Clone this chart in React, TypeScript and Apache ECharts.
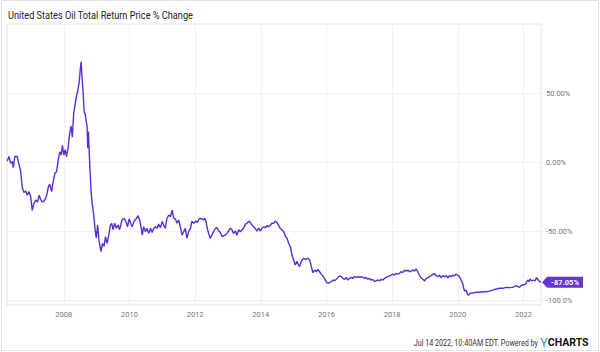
import React, { useEffect, useRef } from "react";
import * as echarts from "echarts";

// Decimal year, total return % change
const p2006_2008: [number, number][] = [
  [2006.275, 0.5], [2006.33, 4], [2006.38, -1], [2006.43, 0.5], [2006.46, -4], [2006.51, 4], [2006.58, 4],
  [2006.61, 0.5], [2006.68, -6], [2006.74, -19], [2006.78, -22], [2006.84, -21], [2006.88, -24], [2006.94, -21.5],
  [2006.99, -25], [2007.04, -35], [2007.09, -30], [2007.15, -27.5], [2007.2, -29], [2007.25, -24], [2007.29, -27],
  [2007.35, -29], [2007.41, -28], [2007.47, -25], [2007.53, -18], [2007.57, -16], [2007.63, -21.5], [2007.67, -15],
  [2007.73, -8], [2007.78, -7], [2007.83, 1.5], [2007.88, 7.5], [2007.92, 5], [2007.96, 12], [2008.0, 5],
  [2008.04, 9], [2008.08, 4], [2008.13, 10], [2008.18, 21], [2008.22, 26], [2008.26, 18], [2008.3, 35],
  [2008.34, 41], [2008.39, 48.5], [2008.43, 52], [2008.47, 58], [2008.5, 66.7], [2008.53, 72.7], [2008.55, 63],
  [2008.59, 50], [2008.62, 36], [2008.65, 35], [2008.68, 30], [2008.71, 25.6], [2008.73, 10], [2008.75, 22],
  [2008.79, -2], [2008.83, -21.5], [2008.87, -31], [2008.91, -38], [2008.94, -45.7], [2008.96, -50.5], [2008.99, -55],
];
const p2009_2011: [number, number][] = [
  [2009.03, -45.7], [2009.07, -56.5], [2009.13, -65], [2009.18, -59], [2009.23, -61], [2009.27, -54], [2009.32, -59],
  [2009.37, -53], [2009.42, -45.7], [2009.46, -44.4], [2009.5, -49], [2009.55, -44.4], [2009.6, -48], [2009.65, -45.7],
  [2009.7, -49], [2009.77, -42], [2009.83, -40.8], [2009.89, -43], [2009.94, -47], [2009.99, -41.3], [2010.04, -44.4],
  [2010.08, -47], [2010.14, -43], [2010.21, -40.8], [2010.26, -38.9], [2010.31, -42], [2010.36, -48], [2010.39, -53],
  [2010.43, -47], [2010.49, -50.5], [2010.53, -48], [2010.59, -51.7], [2010.64, -48], [2010.69, -51], [2010.74, -48],
  [2010.79, -47], [2010.84, -48], [2010.89, -45], [2010.94, -47.6], [2011.0, -43], [2011.04, -45.7], [2011.09, -48],
  [2011.14, -40.8], [2011.2, -38.4], [2011.25, -39.6], [2011.3, -34.8], [2011.35, -40.8], [2011.4, -41.3],
  [2011.45, -44.4], [2011.5, -42], [2011.55, -47], [2011.6, -53], [2011.65, -50.5], [2011.7, -48], [2011.75, -55.3],
  [2011.8, -50.5], [2011.86, -48], [2011.9, -43], [2011.96, -44.4],
];
const p2012_2014: [number, number][] = [
  [2012.02, -42.8], [2012.07, -43.7], [2012.12, -41.3], [2012.16, -40.8], [2012.21, -41.3], [2012.26, -42],
  [2012.29, -40.8], [2012.33, -43], [2012.37, -48], [2012.41, -51.7], [2012.46, -55.3], [2012.51, -53],
  [2012.56, -50.5], [2012.62, -48], [2012.67, -47.6], [2012.72, -50], [2012.77, -51], [2012.82, -54],
  [2012.87, -53.4], [2012.92, -53], [2012.97, -51.7], [2013.02, -50], [2013.07, -48], [2013.12, -49],
  [2013.17, -51.7], [2013.23, -50], [2013.27, -53], [2013.33, -49], [2013.38, -50.5], [2013.43, -49], [2013.48, -48],
  [2013.53, -45], [2013.58, -44.4], [2013.63, -42.8], [2013.68, -43.7], [2013.73, -45.7], [2013.78, -47],
  [2013.83, -48], [2013.88, -50], [2013.93, -48], [2013.99, -50], [2014.03, -48], [2014.09, -47], [2014.14, -47.6],
  [2014.19, -46], [2014.24, -47], [2014.29, -45.7], [2014.34, -44.4], [2014.39, -44.4], [2014.44, -42.8],
  [2014.49, -43.7], [2014.54, -45.7], [2014.59, -48], [2014.64, -49], [2014.7, -50.5], [2014.75, -54],
  [2014.8, -55.3], [2014.85, -59], [2014.9, -61.4], [2014.95, -67.4],
];
const p2015_2017: [number, number][] = [
  [2015.0, -71], [2015.05, -74.6], [2015.1, -72], [2015.15, -74.6], [2015.18, -75.8], [2015.23, -72.2],
  [2015.3, -69.8], [2015.36, -70.5], [2015.43, -69.8], [2015.49, -71], [2015.54, -75.8], [2015.59, -80.2],
  [2015.64, -78.3], [2015.69, -79.5], [2015.74, -77.8], [2015.79, -79.5], [2015.84, -81.2], [2015.89, -82.6],
  [2015.94, -84.3], [2015.99, -86.7], [2016.04, -87.9], [2016.09, -87.4], [2016.15, -86.7], [2016.2, -85.5],
  [2016.25, -86], [2016.3, -85], [2016.35, -83.6], [2016.4, -82.6], [2016.45, -83], [2016.5, -84.3], [2016.55, -85],
  [2016.6, -83.6], [2016.65, -85.5], [2016.7, -84.3], [2016.76, -83.6], [2016.8, -84.3], [2016.86, -83],
  [2016.91, -83.6], [2016.96, -83], [2017.01, -83.6], [2017.06, -83], [2017.11, -83.6], [2017.16, -84.3],
  [2017.21, -83.6], [2017.26, -85], [2017.31, -84.3], [2017.36, -85.5], [2017.41, -85], [2017.46, -86.7],
  [2017.52, -86], [2017.56, -85.5], [2017.62, -86], [2017.67, -85], [2017.72, -85.5], [2017.77, -84.3],
  [2017.82, -83.6], [2017.87, -83], [2017.92, -82.6], [2017.97, -81.9],
];
const p2018_2020: [number, number][] = [
  [2018.02, -81.2], [2018.07, -81.9], [2018.12, -80.7], [2018.17, -81.2], [2018.22, -80.7], [2018.27, -79.5],
  [2018.33, -80], [2018.38, -78.3], [2018.43, -79], [2018.48, -78.3], [2018.53, -79.5], [2018.58, -79],
  [2018.63, -78.3], [2018.68, -79], [2018.73, -77.5], [2018.78, -79.5], [2018.83, -81.9], [2018.88, -83.8],
  [2018.93, -84.8], [2018.99, -86.2], [2019.04, -84.3], [2019.09, -83.8], [2019.14, -83], [2019.19, -82.4],
  [2019.24, -81.4], [2019.29, -80.7], [2019.34, -82.4], [2019.39, -83], [2019.44, -81.9], [2019.49, -83.8],
  [2019.54, -82.4], [2019.59, -83], [2019.65, -82.4], [2019.7, -83.8], [2019.75, -82.4], [2019.8, -83],
  [2019.85, -81.9], [2019.9, -82.4], [2019.95, -81.4], [2020.0, -81.9], [2020.05, -83], [2020.1, -85.5],
  [2020.15, -87.9], [2020.18, -91.5], [2020.21, -93.5], [2020.26, -92.8], [2020.29, -95.9], [2020.33, -96.4],
  [2020.38, -95.1], [2020.46, -94.9], [2020.56, -94.4], [2020.66, -94.4], [2020.76, -94], [2020.86, -94],
  [2020.96, -93.5],
];
const p2021_2022: [number, number][] = [
  [2021.06, -92.8], [2021.17, -92], [2021.27, -91.5], [2021.37, -91.5], [2021.47, -90.8], [2021.57, -91],
  [2021.67, -90.8], [2021.78, -89.6], [2021.83, -90.3], [2021.88, -90.8], [2021.93, -89.6], [2021.98, -89.1],
  [2022.06, -88.6], [2022.13, -85.5], [2022.16, -86.7], [2022.2, -84.8], [2022.25, -86.2], [2022.3, -85.5],
  [2022.35, -86.2], [2022.4, -83.8], [2022.45, -85.5], [2022.5, -86.7], [2022.535, -87.05],
];

const xTicks = [2008, 2010, 2012, 2014, 2016, 2018, 2020, 2022];
const yTicks = [-100, -50, 0, 50];
const lastValue = -87.05;
const titleText = "United States Oil Total Return Price % Change";
const footerText = "Jul 14 2022, 10:40AM EDT. Powered by";

const LINE = "#5b2dd3";
const FONT = "Roboto, 'Noto Sans', sans-serif";

function fmtPct(v: number): string {
  return Math.abs(v) >= 100 ? v.toFixed(1) + "%" : v.toFixed(2) + "%";
}

export default function App() {
  const ref = useRef<HTMLDivElement>(null);
  useEffect(() => {
    if (!ref.current) return;
    const chart = echarts.init(ref.current, undefined, { renderer: "svg" });
    const data = [...p2006_2008, ...p2009_2011, ...p2012_2014, ...p2015_2017, ...p2018_2020, ...p2021_2022];
    const last = data[data.length - 1];
    chart.setOption({
      animation: false,
      backgroundColor: "#ffffff",
      grid: {
        left: 7,
        right: 59,
        top: 24,
        bottom: 47,
        show: true,
        borderColor: "#e4e4e4",
        borderWidth: 1,
      },
      xAxis: {
        type: "value",
        min: 2006.27,
        max: 2022.535,
        axisLine: { show: false },
        axisTick: { show: false, customValues: xTicks },
        splitLine: { show: true, lineStyle: { color: "#f1f1f1", width: 1 } },
        axisLabel: {
          customValues: xTicks,
          formatter: (v: number) => String(v),
          color: "#777",
          fontSize: 7.5,
          fontFamily: FONT,
          margin: 5,
        },
      },
      yAxis: {
        type: "value",
        position: "right",
        min: -103.6,
        max: 100,
        axisLine: { show: false },
        axisTick: { show: false, customValues: yTicks },
        splitLine: { show: true, lineStyle: { color: "#f1f1f1", width: 1 } },
        axisLabel: {
          customValues: yTicks,
          formatter: (v: number) => fmtPct(v),
          color: "#777",
          fontSize: 7.5,
          fontFamily: FONT,
          margin: 5,
          padding: [0, 0, 6, 0],
        },
      },
      series: [
        {
          type: "line",
          data,
          showSymbol: false,
          symbol: "none",
          lineStyle: { color: LINE, width: 1.4 },
          markPoint: {
            symbol: "path://M0,5 L5,0 L40,0 L40,10 L5,10 Z",
            symbolSize: [41, 11],
            symbolKeepAspect: false,
            symbolOffset: [21.5, 0],
            itemStyle: { color: "#6535d0" },
            label: {
              show: true,
              formatter: fmtPct(lastValue),
              color: "#fff",
              fontWeight: "bold",
              fontSize: 7.5,
              fontFamily: FONT,
              offset: [2.5, 0],
            },
            data: [{ coord: [last[0], last[1]] }],
          },
        },
      ],
      graphic: [
        {
          type: "rect",
          silent: true,
          shape: { x: 1.5, y: 0.5, width: 597, height: 350 },
          style: { fill: "none", stroke: "#e2e2e2", lineWidth: 1 },
        },
        {
          type: "text",
          x: 8,
          y: 15,
          scaleX: 0.92,
          style: {
            text: titleText,
            fontSize: 10,
            fontFamily: FONT,
            fill: "#222",
            verticalAlign: "middle",
            align: "left",
          },
        },
        {
          type: "text",
          x: 538,
          y: 343,
          scaleX: 0.8,
          style: {
            text: footerText,
            fontSize: 9,
            fontFamily: FONT,
            fill: "#333",
            verticalAlign: "middle",
            align: "right",
          },
        },
        {
          type: "text",
          x: 540,
          y: 342.5,
          style: {
            text: "{y|Y}{c|CHARTS}",
            verticalAlign: "middle",
            align: "left",
            rich: {
              y: { fontSize: 13, fontFamily: FONT, fill: "#2f9be0", fontWeight: "normal" },
              c: { fontSize: 10.5, fontFamily: FONT, fill: "#111", fontWeight: "bold" },
            },
          },
        },
      ],
    });
    return () => chart.dispose();
  }, []);
  return (
    <div
      ref={ref}
      style={{ position: "fixed", left: 0, top: 0, width: 600, height: 352 }}
    />
  );
}
